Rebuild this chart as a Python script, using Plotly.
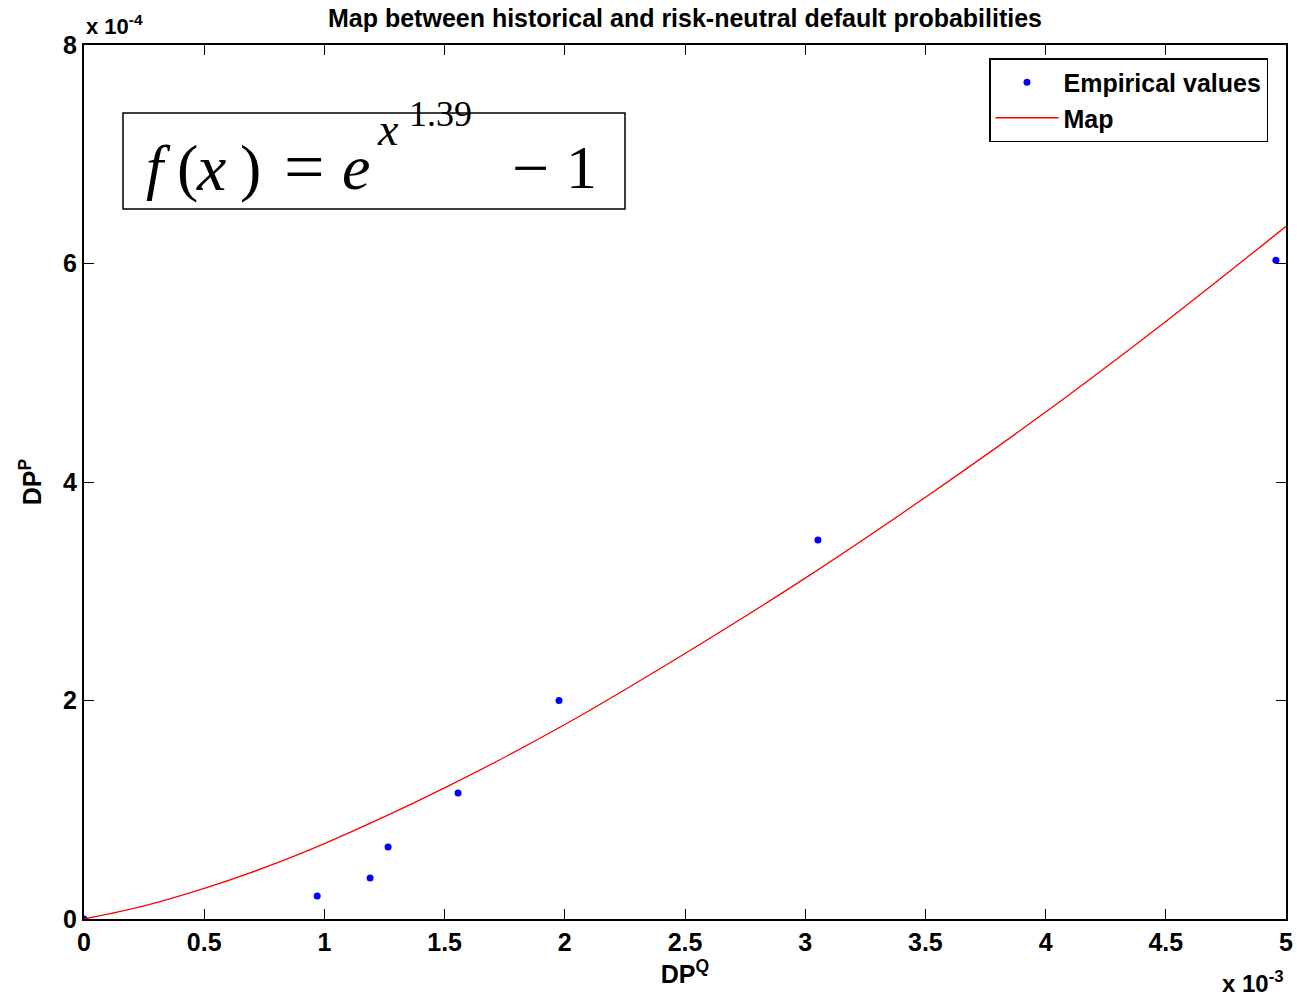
import plotly.graph_objects as go

# Data (x in units of 1e-3, y in units of 1e-4)
emp_x = [0.0, 0.97, 1.19, 1.265, 1.556, 1.976, 3.053, 4.958]
emp_y = [0.0, 0.21, 0.375, 0.66, 1.153, 2.0, 3.47, 6.03]

map_x = [0, 0.25, 0.5, 0.75, 1.0, 1.5, 2.0, 2.5, 3.0, 3.5, 4.0, 4.5, 5.0]
map_y = [0, 0.12, 0.28, 0.47, 0.69, 1.20, 1.78, 2.43, 3.12, 3.86, 4.64, 5.47, 6.34]

x_ticks = [0, 0.5, 1, 1.5, 2, 2.5, 3, 3.5, 4, 4.5, 5]
x_ticktext = ["0", "0.5", "1", "1.5", "2", "2.5", "3", "3.5", "4", "4.5", "5"]
y_ticks = [0, 2, 4, 6, 8]
y_ticktext = ["0", "2", "4", "6", "8"]

W, H = 1297, 997
L, R, T, B = 84, 1286, 45, 919

def px(x):
    return (x - L) / (R - L)

def py(y):
    return (B - y) / (B - T)

FONT = "Liberation Sans"

fig = go.Figure()
fig.add_trace(go.Scatter(x=emp_x, y=emp_y, mode="markers", name="<b>Empirical values</b>",
                         marker=dict(color="#0000ff", size=7)))
fig.add_trace(go.Scatter(x=map_x, y=map_y, mode="lines", name="<b>Map</b>",
                         line=dict(color="#ff0000", width=1.3, shape="spline", smoothing=1.0)))

axis_common = dict(showline=True, linecolor="black", linewidth=2, mirror="ticks",
                   ticks="inside", ticklen=10, tickwidth=1, tickcolor="black",
                   showgrid=False, zeroline=False, automargin=False,
                   tickfont=dict(family=FONT, size=25, color="black"))

fig.update_layout(
    width=W, height=H, autosize=False,
    margin=dict(l=L, r=W - R, t=T, b=H - B, autoexpand=False),
    paper_bgcolor="white", plot_bgcolor="white",
    font=dict(family=FONT, color="black"),
    title=dict(text="<b>Map between historical and risk-neutral default probabilities</b>",
               x=(L + R) / 2 / W, xanchor="center", y=1 - 18 / H, yanchor="middle",
               font=dict(family=FONT, size=25, color="black")),
    xaxis=dict(range=[0, 5], tickvals=x_ticks, ticktext=["<b>%s</b>" % t for t in x_ticktext],
               title=dict(text="<b>DP<sup>Q</sup></b>", font=dict(family=FONT, size=25), standoff=6),
               **axis_common),
    yaxis=dict(range=[0, 8], tickvals=y_ticks, ticktext=["<b>%s</b>" % t for t in y_ticktext],
               title=dict(text="<b>DP<sup>P</sup></b>", font=dict(family=FONT, size=25), standoff=14),
               **axis_common),
    legend=dict(x=px(989), y=py(58), xanchor="left", yanchor="top",
                bgcolor="white", bordercolor="black", borderwidth=1.5,
                font=dict(family=FONT, size=25, color="black"),
                tracegroupgap=0, itemwidth=63),
    showlegend=True,
)

annos = []
# exponent multipliers
annos.append(dict(text="<b>x 10<sup>-4</sup></b>", xref="paper", yref="paper",
                  x=px(84), y=py(25), xanchor="left", yanchor="middle", showarrow=False,
                  font=dict(family=FONT, size=22, color="black")))
annos.append(dict(text="<b>x 10<sup>-3</sup></b>", xref="paper", yref="paper",
                  x=px(1286), y=py(999), xanchor="right", yanchor="bottom", showarrow=False,
                  font=dict(family=FONT, size=24, color="black")))
# formula pieces
SERIF = "Liberation Serif"
def piece(text, x, yc, size):
    annos.append(dict(text=text, xref="paper", yref="paper",
                      x=px(x), y=py(yc), xanchor="left", yanchor="middle", showarrow=False,
                      font=dict(family=SERIF, size=size, color="black")))

piece("<i>f</i>", 144, 167, 62)
piece("(", 175, 167, 64)
piece("<i>x</i>", 194, 167, 66)
piece(")", 238, 167, 64)
piece("=", 282, 167, 72)
piece("<i>e</i>", 340, 167, 64)
piece("<i>x</i>", 375, 129, 46)
piece("1.39", 407, 114, 36)
piece("−", 510, 167, 66)
piece("1", 564, 167, 62)
fig.update_layout(annotations=annos)

fig.add_shape(type="rect", xref="paper", yref="paper",
              x0=px(123), x1=px(625), y0=py(209), y1=py(113),
              line=dict(color="black", width=1.5), fillcolor="rgba(0,0,0,0)")

fig.write_html("out.html",
               config={"responsive": False, "displayModeBar": False},
               post_script="document.body.style.margin='0';document.body.style.padding='0';document.body.style.overflow='hidden';")
